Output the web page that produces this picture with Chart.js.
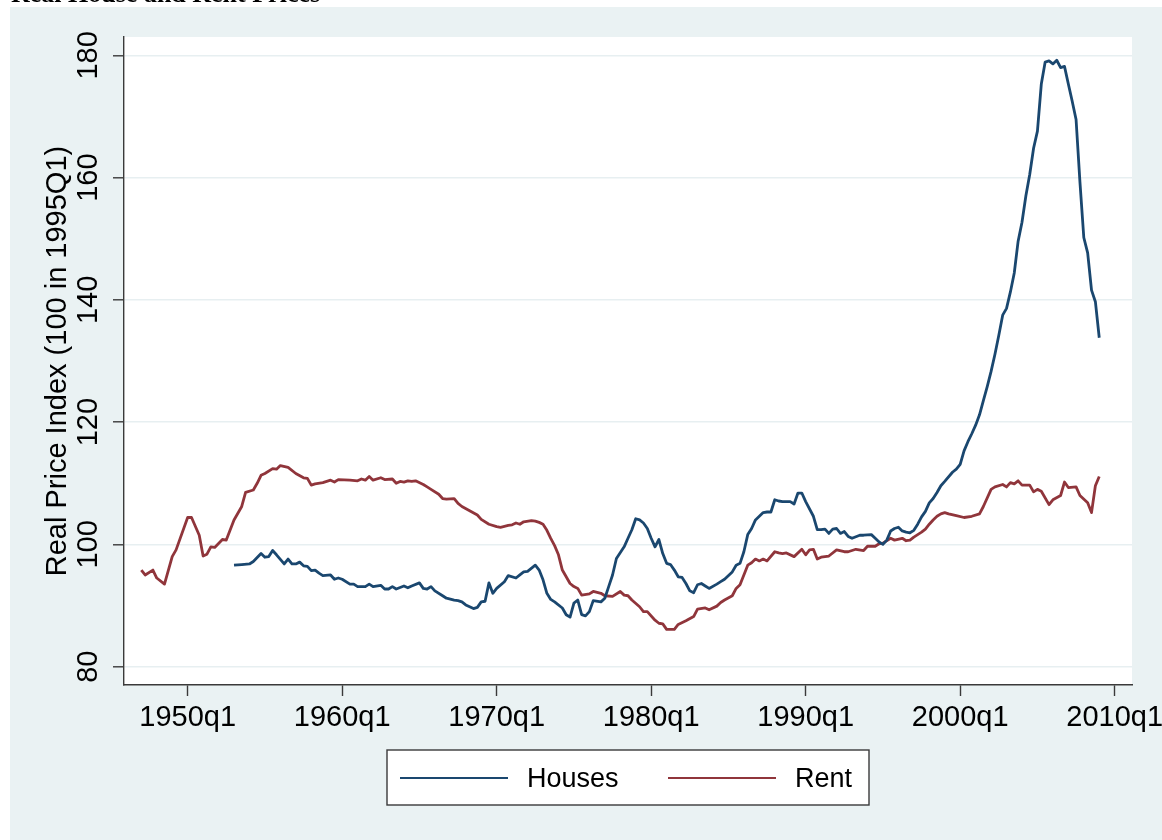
<!DOCTYPE html>
<html>
<head>
<meta charset="utf-8">
<script src="https://cdn.jsdelivr.net/npm/chart.js@4.4.1/dist/chart.umd.min.js"></script>
<style>
  html, body { margin: 0; padding: 0; background: #ffffff; }
  #wrap { width: 1162px; height: 840px; }
</style>
</head>
<body>
<div id="wrap"><canvas id="c" width="1162" height="840"></canvas></div>
<script>
// ---- Data ----
const chartTitle = 'Real House and Rent Prices';
const yAxisTitle = 'Real Price Index (100 in 1995Q1)';
const seriesNames = ['Houses', 'Rent'];

const xTickValues = [1950, 1960, 1970, 1980, 1990, 2000, 2010];
const xTickLabels = ['1950q1', '1960q1', '1970q1', '1980q1', '1990q1', '2000q1', '2010q1'];
const yTickValues = [80, 100, 120, 140, 160, 180];
const yTickLabels = ['80', '100', '120', '140', '160', '180'];

const houseDates = [
  1953.0, 1953.5, 1954.0, 1954.25, 1954.75, 1955.0, 1955.25, 1955.5, 1955.75, 1956.25,
  1956.5, 1956.75, 1957.0, 1957.25, 1957.5, 1957.75, 1958.0, 1958.25, 1958.5, 1958.75,
  1959.25, 1959.5, 1959.75, 1960.0, 1960.5, 1960.75, 1961.0, 1961.5, 1961.75, 1962.0,
  1962.5, 1962.75, 1963.0, 1963.25, 1963.5, 1964.0, 1964.25, 1964.5, 1965.0, 1965.25,
  1965.5, 1965.75, 1966.0, 1966.5, 1966.75, 1967.25, 1967.5, 1967.75, 1968.0, 1968.5,
  1968.75, 1969.0, 1969.25, 1969.5, 1969.75, 1970.0, 1970.5, 1970.75, 1971.25, 1971.5,
  1971.75, 1972.0, 1972.5, 1972.75, 1973.0, 1973.25, 1973.5, 1973.75, 1974.25, 1974.5,
  1974.75, 1975.0, 1975.25, 1975.5, 1975.75, 1976.0, 1976.25, 1976.75, 1977.0, 1977.25,
  1977.5, 1977.75, 1978.25, 1978.5, 1978.75, 1979.0, 1979.25, 1979.5, 1979.75, 1980.0,
  1980.25, 1980.5, 1980.75, 1981.0, 1981.25, 1981.5, 1981.75, 1982.0, 1982.25, 1982.5,
  1982.75, 1983.0, 1983.25, 1983.5, 1983.75, 1984.25, 1984.5, 1984.75, 1985.25, 1985.5,
  1985.75, 1986.0, 1986.25, 1986.5, 1986.75, 1987.25, 1987.5, 1987.75, 1988.0, 1988.25,
  1988.5, 1988.75, 1989.0, 1989.25, 1989.5, 1989.75, 1990.0, 1990.5, 1990.75, 1991.0,
  1991.25, 1991.5, 1991.75, 1992.0, 1992.25, 1992.5, 1992.75, 1993.0, 1993.5, 1993.75,
  1994.25, 1994.5, 1994.75, 1995.0, 1995.25, 1995.5, 1995.75, 1996.0, 1996.25, 1996.5,
  1996.75, 1997.0, 1997.25, 1997.5, 1997.75, 1998.0, 1998.25, 1998.5, 1998.75, 1999.0,
  1999.5, 1999.75, 2000.0, 2000.25, 2000.5, 2000.75, 2001.0, 2001.25, 2001.5, 2001.75,
  2002.0, 2002.25, 2002.5, 2002.75, 2003.0, 2003.25, 2003.5, 2003.75, 2004.0, 2004.25,
  2004.5, 2004.75, 2005.0, 2005.25, 2005.5, 2005.75, 2006.0, 2006.25, 2006.5, 2006.75,
  2007.0, 2007.25, 2007.5, 2007.75, 2008.0, 2008.25, 2008.5, 2008.75, 2009.0
];
const houseValues = [
  96.6, 96.7, 96.8, 97.2, 98.5, 97.9, 98.0, 99.0, 98.3, 96.8,
  97.6, 96.8, 96.8, 97.1, 96.5, 96.4, 95.7, 95.8, 95.3, 94.9,
  95.0, 94.3, 94.5, 94.3, 93.5, 93.5, 93.1, 93.1, 93.5, 93.1,
  93.3, 92.7, 92.7, 93.1, 92.7, 93.2, 92.9, 93.2, 93.7, 92.8,
  92.7, 93.1, 92.4, 91.6, 91.2, 90.9, 90.8, 90.6, 90.1, 89.5,
  89.7, 90.6, 90.7, 93.7, 92.0, 92.8, 93.9, 94.9, 94.5, 95.0,
  95.5, 95.6, 96.6, 95.8, 94.2, 92.0, 91.0, 90.6, 89.6, 88.5,
  88.1, 90.4, 90.9, 88.5, 88.3, 89.0, 90.8, 90.6, 91.2, 93.1,
  95.0, 97.7, 99.6, 101.0, 102.4, 104.2, 104.0, 103.5, 102.6, 101.0,
  99.6, 100.8, 98.5, 96.9, 96.7, 95.8, 94.7, 94.6, 93.6, 92.4,
  92.1, 93.4, 93.6, 93.2, 92.8, 93.5, 93.9, 94.3, 95.5, 96.6,
  96.9, 98.8, 101.6, 102.6, 104.0, 105.2, 105.3, 105.3, 107.3, 107.1,
  107.0, 107.0, 107.0, 106.6, 108.4, 108.4, 107.0, 104.6, 102.4, 102.4,
  102.5, 101.8, 102.5, 102.6, 101.8, 102.1, 101.3, 101.0, 101.5, 101.5,
  101.6, 101.0, 100.4, 100.0, 100.7, 102.2, 102.6, 102.8, 102.2, 102.0,
  101.9, 102.3, 103.3, 104.5, 105.4, 106.8, 107.5, 108.5, 109.6, 110.3,
  111.8, 112.3, 113.1, 115.3, 116.8, 118.1, 119.5, 121.2, 123.5, 125.8,
  128.3, 131.1, 134.2, 137.5, 138.6, 141.3, 144.4, 149.6, 152.7, 157.0,
  160.5, 164.8, 167.6, 175.3, 178.9, 179.1, 178.6, 179.2, 178.0, 178.2,
  175.3, 172.5, 169.5, 159.3, 150.2, 147.7, 141.6, 139.7, 133.8
];

const rentDates = [
  1947.0, 1947.25, 1947.75, 1948.0, 1948.5, 1949.0, 1949.25, 1950.0, 1950.25, 1950.75,
  1951.0, 1951.25, 1951.5, 1951.75, 1952.25, 1952.5, 1953.0, 1953.5, 1953.75, 1954.25,
  1954.5, 1954.75, 1955.0, 1955.5, 1955.75, 1956.0, 1956.5, 1957.0, 1957.5, 1957.75,
  1958.0, 1958.25, 1958.75, 1959.25, 1959.5, 1959.75, 1960.5, 1961.0, 1961.25, 1961.5,
  1961.75, 1962.0, 1962.5, 1962.75, 1963.25, 1963.5, 1963.75, 1964.0, 1964.25, 1964.5,
  1964.75, 1965.25, 1965.5, 1965.75, 1966.25, 1966.5, 1966.75, 1967.25, 1967.5, 1967.75,
  1968.25, 1968.75, 1969.0, 1969.5, 1970.0, 1970.25, 1970.75, 1971.0, 1971.25, 1971.5,
  1971.75, 1972.25, 1972.5, 1972.75, 1973.0, 1973.25, 1973.5, 1973.75, 1974.0, 1974.25,
  1974.75, 1975.0, 1975.25, 1975.5, 1976.0, 1976.25, 1976.75, 1977.0, 1977.5, 1978.0,
  1978.25, 1978.5, 1978.75, 1979.25, 1979.5, 1979.75, 1980.25, 1980.5, 1980.75, 1981.0,
  1981.5, 1981.75, 1982.25, 1982.75, 1983.0, 1983.5, 1983.75, 1984.25, 1984.5, 1984.75,
  1985.25, 1985.5, 1985.75, 1986.25, 1986.5, 1986.75, 1987.0, 1987.25, 1987.5, 1988.0,
  1988.25, 1988.5, 1988.75, 1989.25, 1989.75, 1990.0, 1990.25, 1990.5, 1990.75, 1991.0,
  1991.5, 1992.0, 1992.5, 1992.75, 1993.25, 1993.75, 1994.0, 1994.5, 1994.75, 1995.0,
  1995.5, 1995.75, 1996.25, 1996.5, 1996.75, 1997.0, 1997.5, 1997.75, 1998.0, 1998.25,
  1998.5, 1998.75, 1999.0, 1999.25, 1999.75, 2000.25, 2000.75, 2001.25, 2001.5, 2002.0,
  2002.25, 2002.75, 2003.0, 2003.25, 2003.5, 2003.75, 2004.0, 2004.5, 2004.75, 2005.0,
  2005.25, 2005.75, 2006.0, 2006.5, 2006.75, 2007.0, 2007.5, 2007.75, 2008.25, 2008.5,
  2008.75, 2009.0
];
const rentValues = [
  95.8, 95.0, 95.8, 94.5, 93.5, 98.0, 99.1, 104.4, 104.4, 101.5,
  98.1, 98.4, 99.6, 99.5, 100.8, 100.7, 104.0, 106.2, 108.5, 108.9,
  110.0, 111.3, 111.6, 112.4, 112.3, 112.9, 112.6, 111.6, 110.9, 110.8,
  109.7, 109.9, 110.1, 110.5, 110.2, 110.6, 110.5, 110.4, 110.7, 110.5,
  111.1, 110.5, 110.9, 110.6, 110.7, 110.0, 110.3, 110.2, 110.4, 110.3,
  110.4, 109.8, 109.4, 109.0, 108.2, 107.5, 107.4, 107.5, 106.7, 106.2,
  105.5, 104.8, 104.1, 103.3, 102.9, 102.8, 103.1, 103.2, 103.5, 103.3,
  103.7, 103.9, 103.8, 103.6, 103.3, 102.3, 101.0, 99.8, 98.3, 95.8,
  93.6, 93.1, 92.8, 91.7, 91.9, 92.3, 92.0, 91.6, 91.5, 92.3,
  91.7, 91.6, 90.9, 89.8, 89.0, 89.0, 87.6, 87.1, 87.0, 86.1,
  86.1, 86.9, 87.5, 88.2, 89.4, 89.6, 89.3, 89.9, 90.5, 90.9,
  91.6, 92.8, 93.4, 96.6, 97.0, 97.6, 97.3, 97.6, 97.3, 98.8,
  98.6, 98.5, 98.6, 98.0, 99.2, 98.3, 99.1, 99.2, 97.6, 97.9,
  98.1, 99.1, 98.8, 98.8, 99.2, 99.0, 99.7, 99.7, 100.1, 100.2,
  101.0, 100.7, 101.0, 100.6, 100.7, 101.2, 102.0, 102.5, 103.3, 104.0,
  104.6, 105.0, 105.2, 105.0, 104.7, 104.4, 104.6, 105.0, 106.2, 109.0,
  109.4, 109.8, 109.4, 110.1, 109.9, 110.4, 109.7, 109.7, 108.6, 109.0,
  108.7, 106.5, 107.3, 108.0, 110.2, 109.3, 109.4, 108.0, 106.8, 105.2,
  109.6, 111.1
];

const houseColor = '#1a476f';
const rentColor = '#90353b';

// ---- Styling helpers ----
const AXIS_COLOR = '#3a3a3a';
const GRID_COLOR = '#e7eff1';
const BG_COLOR = '#eaf2f3';
const FONT = '"Liberation Sans", Arial, Helvetica, sans-serif';

const backgroundPlugin = {
  id: 'stataBackground',
  beforeDraw(chart) {
    const ctx = chart.ctx;
    const a = chart.chartArea;
    ctx.save();
    ctx.fillStyle = '#ffffff';
    ctx.fillRect(0, 0, chart.width, chart.height);
    ctx.fillStyle = BG_COLOR;
    ctx.fillRect(10, 7, chart.width - 10, chart.height - 7);
    ctx.fillStyle = '#ffffff';
    ctx.fillRect(a.left, a.top, a.right - a.left, a.bottom - a.top);
    // title (cut off at the top edge, as in the reference)
    ctx.fillStyle = '#000000';
    ctx.font = 'bold 26px "Liberation Serif", "Times New Roman", serif';
    ctx.textBaseline = 'alphabetic';
    ctx.textAlign = 'left';
    ctx.fillText(chartTitle, 11, 2);
    ctx.restore();
  }
};

const legendPlugin = {
  id: 'stataLegend',
  afterDraw(chart) {
    const ctx = chart.ctx;
    ctx.save();
    const box = { x: 387, y: 750, w: 482, h: 55 };
    ctx.fillStyle = '#ffffff';
    ctx.fillRect(box.x, box.y, box.w, box.h);
    ctx.strokeStyle = AXIS_COLOR;
    ctx.lineWidth = 1.4;
    ctx.strokeRect(box.x, box.y, box.w, box.h);
    const entries = [
      { lineX: 400, textX: 527 },
      { lineX: 668, textX: 795 }
    ];
    const cy = 778;
    chart.data.datasets.forEach((ds, i) => {
      const e = entries[i];
      ctx.strokeStyle = ds.borderColor;
      ctx.lineWidth = 2;
      ctx.beginPath();
      ctx.moveTo(e.lineX, cy);
      ctx.lineTo(e.lineX + 108, cy);
      ctx.stroke();
      ctx.fillStyle = '#000000';
      ctx.font = '27px ' + FONT;
      ctx.textBaseline = 'middle';
      ctx.textAlign = 'left';
      ctx.fillText(ds.label, e.textX, cy + 2);
    });
    ctx.restore();
  }
};

const houseData = houseDates.map((d, i) => ({ x: d, y: houseValues[i] }));
const rentData = rentDates.map((d, i) => ({ x: d, y: rentValues[i] }));

new Chart(document.getElementById('c'), {
  type: 'line',
  data: {
    datasets: [
      { label: seriesNames[0], data: houseData, borderColor: houseColor, borderWidth: 2.8,
        pointRadius: 0, tension: 0, fill: false, borderJoinStyle: 'round' },
      { label: seriesNames[1], data: rentData, borderColor: rentColor, borderWidth: 2.8,
        pointRadius: 0, tension: 0, fill: false, borderJoinStyle: 'round' }
    ]
  },
  options: {
    responsive: false,
    animation: false,
    devicePixelRatio: 1,
    layout: { padding: { top: 37, right: 30, bottom: 0, left: 0 } },
    plugins: {
      legend: { display: false },
      title: { display: false },
      tooltip: { enabled: false }
    },
    scales: {
      x: {
        type: 'linear',
        min: 1945.88,
        max: 2011.12,
        afterBuildTicks(scale) { scale.ticks = xTickValues.map(v => ({ value: v })); },
        afterFit(scale) { scale.height = 155; scale.paddingLeft = 0; scale.paddingRight = 0; },
        border: { display: true, color: AXIS_COLOR, width: 1.4 },
        grid: { drawOnChartArea: false, drawTicks: true, tickLength: 11, tickColor: AXIS_COLOR, tickWidth: 1.4 },
        ticks: {
          autoSkip: false, maxRotation: 0, minRotation: 0, padding: 5,
          color: '#000000', font: { family: FONT, size: 29 },
          callback: (v, i) => xTickLabels[i]
        }
      },
      y: {
        type: 'linear',
        min: 77,
        max: 183,
        afterBuildTicks(scale) { scale.ticks = yTickValues.map(v => ({ value: v })); },
        afterFit(scale) { scale.width = 124; scale.paddingTop = 0; scale.paddingBottom = 0; },
        border: { display: true, color: AXIS_COLOR, width: 1.4 },
        grid: { color: GRID_COLOR, lineWidth: 1.6, drawTicks: true, tickLength: 11, tickColor: AXIS_COLOR, tickWidth: 1.4 },
        title: {
          display: true, text: yAxisTitle, color: '#000000',
          font: { family: FONT, size: 29 }, padding: { top: 41, bottom: 0 }
        },
        ticks: {
          minRotation: 90, maxRotation: 90, crossAlign: 'center', padding: 0,
          color: '#000000', font: { family: FONT, size: 29 },
          callback: (v, i) => yTickLabels[i]
        }
      }
    }
  },
  plugins: [backgroundPlugin, legendPlugin]
});
</script>
</body>
</html>
